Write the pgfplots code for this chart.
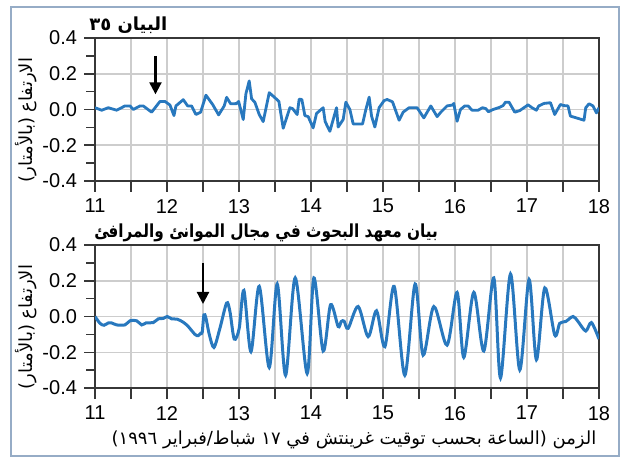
\documentclass[border=0pt]{standalone}
\usepackage{fontspec}
\usepackage{graphicx}
\setmainfont{Liberation Sans}
\newfontfamily\arabicfont[Script=Arabic]{DejaVu Sans}
\TeXXeTstate=1
\usepackage{pgfplots}
\pgfplotsset{compat=1.18}
\usetikzlibrary{arrows.meta}
\definecolor{lineblue}{RGB}{40,120,190}
\definecolor{gridgray}{RGB}{205,205,205}
\definecolor{axisgray}{RGB}{55,55,55}
\definecolor{framecol}{RGB}{150,172,198}

\pgfplotsset{
  myaxis/.style={
    scale only axis, width=252pt, height=71.5pt,
    xmin=11, xmax=18, ymin=-0.4, ymax=0.4,
    xtick={11,11.5,12,12.5,13,13.5,14,14.5,15,15.5,16,16.5,17,17.5,18},
    xticklabels={11,,12,,13,,14,,15,,16,,17,,18},
    ytick={-0.4,-0.2,0,0.2,0.4},
    minor ytick={-0.3,-0.1,0.1,0.3},
    yticklabel style={/pgf/number format/.cd, fixed, fixed zerofill, precision=1},
    /pgf/number format/assume math mode=true,
    grid=major,
    major grid style={gridgray, line width=0.75pt},
    axis line style={axisgray, line width=0.75pt},
    tick style={axisgray, line width=0.75pt},
    tick align=outside, tick pos=left,
    major tick length=5.5pt, minor tick length=4.5pt,
    tick label style={font=\fontsize{10}{12}\selectfont, text=black},
    axis on top=false,
  }
}

\begin{document}
\begin{tikzpicture}
\useasboundingbox (0pt,0pt) rectangle (310pt,-229pt);
\draw[framecol, line width=0.8pt] (5.5pt,-3.5pt) rectangle (309.5pt,-228pt);

% top axis
\begin{axis}[myaxis, at={(47.5pt,-90.5pt)}, anchor=south west]
\addplot[lineblue, line width=1.4pt, line join=round] coordinates {
(11.000,0.010) (11.093,-0.004) (11.185,0.010) (11.301,-0.004) (11.416,0.020)
(11.486,0.020) (11.532,0.000) (11.625,0.020) (11.670,0.020) (11.787,-0.015)
(11.902,0.045) (11.972,0.045) (12.041,0.025) (12.097,-0.034) (12.124,0.020)
(12.226,0.055) (12.287,0.020) (12.342,0.020) (12.402,-0.028) (12.467,-0.015)
(12.541,0.080) (12.634,0.028) (12.717,-0.030) (12.795,0.020) (12.828,0.068)
(12.884,0.032) (12.967,0.033) (12.995,0.045) (13.059,-0.056) (13.096,0.088)
(13.142,0.160) (13.175,0.060) (13.221,0.040) (13.281,-0.028) (13.336,-0.068)
(13.420,0.094) (13.499,0.066) (13.554,0.045) (13.614,-0.105) (13.707,0.010)
(13.744,0.005) (13.808,-0.028) (13.836,0.058) (13.873,0.056) (13.915,-0.034)
(13.961,-0.040) (14.030,-0.103) (14.077,-0.022) (14.169,0.010) (14.197,-0.068)
(14.262,-0.122) (14.355,0.010) (14.377,-0.098) (14.447,-0.056) (14.484,0.041)
(14.540,0.000) (14.586,-0.081) (14.716,-0.081) (14.762,0.000) (14.808,0.069)
(14.841,-0.037) (14.887,-0.098) (14.946,0.010) (15.016,0.050) (15.058,0.056)
(15.132,0.043) (15.224,-0.060) (15.280,-0.015) (15.363,0.010) (15.474,0.010)
(15.567,-0.047) (15.664,0.020) (15.752,-0.040) (15.803,-0.015) (15.890,0.020)
(15.965,0.025) (15.983,0.034) (16.029,-0.066) (16.076,0.000) (16.136,0.020)
(16.182,0.020) (16.237,-0.004) (16.321,-0.004) (16.382,0.010) (16.428,0.005)
(16.465,-0.013) (16.529,0.000) (16.612,0.011) (16.668,0.022) (16.701,0.041)
(16.751,0.041) (16.830,-0.015) (16.900,-0.006) (17.015,0.026) (17.070,0.010)
(17.131,-0.004) (17.163,0.020) (17.237,0.034) (17.326,0.038) (17.385,-0.028)
(17.464,0.028) (17.510,0.022) (17.570,0.020) (17.603,-0.037) (17.687,-0.047)
(17.792,-0.060) (17.816,0.010) (17.862,0.032) (17.917,0.020) (17.964,-0.019)
(18.000,0.010)
};
\draw[black, line width=1.1pt, -{Triangle[length=6pt,width=6pt]}] (axis cs:11.84,0.30) -- (axis cs:11.84,0.085);
\end{axis}

% bottom axis
\begin{axis}[myaxis, at={(47.5pt,-194pt)}, anchor=south west]
\addplot[lineblue, line width=1.5pt, smooth, tension=0.5] coordinates {
(11.000,0.000) (11.069,-0.038) (11.125,-0.049) (11.185,-0.036) (11.231,-0.036)
(11.301,-0.047) (11.416,-0.047) (11.486,-0.024) (11.579,-0.024) (11.648,-0.047)
(11.708,-0.036) (11.809,-0.034) (11.879,-0.013) (11.948,-0.011) (12.004,0.000)
(12.064,-0.013) (12.142,-0.015) (12.226,-0.032) (12.295,-0.056) (12.388,-0.100)
(12.434,-0.107) (12.467,-0.094) (12.489,-0.088) (12.513,0.009) (12.541,-0.009)
(12.587,-0.100) (12.652,-0.173) (12.735,-0.066) (12.828,0.075) (12.874,0.028)
(12.934,-0.126) (13.003,-0.066) (13.068,0.146) (13.166,-0.197) (13.281,0.169)
(13.420,-0.285) (13.531,0.182) (13.647,-0.329) (13.781,0.216) (13.947,-0.319)
(14.040,0.216) (14.169,-0.193) (14.272,0.066) (14.377,-0.056) (14.420,-0.028)
(14.460,-0.026) (14.516,-0.066) (14.655,0.056) (14.794,-0.113) (14.910,0.032)
(15.026,-0.169) (15.155,0.169) (15.303,-0.329) (15.446,0.182) (15.557,-0.216)
(15.706,0.056) (15.890,-0.160) (16.029,0.135) (16.122,-0.229) (16.261,0.135)
(16.400,-0.193) (16.539,0.216) (16.632,-0.344) (16.771,0.238) (16.900,-0.299)
(17.029,0.207) (17.131,-0.242) (17.247,0.160) (17.385,-0.103) (17.455,-0.038)
(17.538,-0.028) (17.640,0.000) (17.709,-0.028) (17.816,-0.081) (17.895,-0.034)
(18.000,-0.126)
};
\draw[black, line width=1.1pt, -{Triangle[length=6pt,width=6pt]}] (axis cs:12.5,0.30) -- (axis cs:12.5,0.07);
\end{axis}

% titles and labels
\node[anchor=south west, inner sep=0pt] at (44.5pt,-17pt) {\arabicfont\bfseries\fontsize{9}{11}\selectfont\beginR البيان \beginL٣٥\endL\endR};
\node[anchor=south west, inner sep=0pt] at (47pt,-121pt) {\scalebox{0.85}[1]{\arabicfont\bfseries\fontsize{9}{11}\selectfont\beginR بيان معهد البحوث في مجال الموانئ والمرافئ\endR}};
\node[rotate=90, inner sep=0pt] at (13pt,-60pt) {\arabicfont\fontsize{9}{11}\selectfont\beginR الارتفاع (بالأمتار)\endR};
\node[rotate=90, inner sep=0pt] at (13pt,-163.5pt) {\arabicfont\fontsize{9}{11}\selectfont\beginR الارتفاع (بالأمتار)\endR};
\node[inner sep=0pt] at (177pt,-220pt) {\arabicfont\fontsize{9}{11}\selectfont\beginR الزمن (الساعة بحسب توقيت غرينتش في \beginL١٧\endL{} شباط/فبراير \beginL١٩٩٦\endL)\endR};
\end{tikzpicture}
\end{document}
